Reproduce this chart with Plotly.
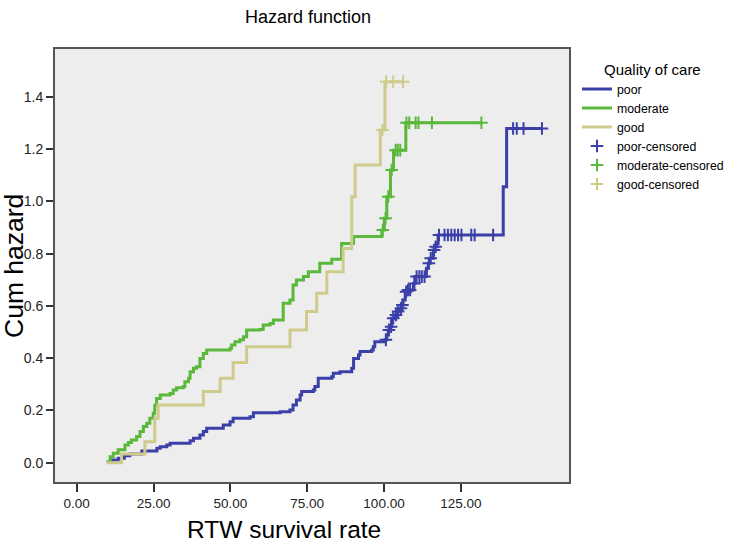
import plotly.graph_objects as go

# ---- data ----
poor_x = [9.8, 11.4, 13.5, 15.5, 17.3, 21.2, 26.1, 27.2, 29.3, 30.4, 36.9, 38.0, 40.1, 41.2, 42.3,
          47.7, 49.9, 50.9, 56.4, 57.5, 66.2, 69.4, 70.4, 71.5, 72.7, 73.2, 77.0, 77.5, 78.6, 83.0,
          83.5, 85.7, 89.5, 90.1, 91.7, 92.2, 96.0, 96.5, 97.0, 100.3, 100.9, 101.4, 102.0, 102.5, 103.6,
          104.1, 105.2, 105.8, 106.2, 106.9, 107.4, 109.6, 110.1, 113.8, 114.4, 114.9, 116.0, 116.5, 117.2,
          117.6, 138.8, 139.9, 151.4]
poor_y = [0.004, 0.010, 0.017, 0.026, 0.033, 0.045, 0.055, 0.061, 0.068, 0.074, 0.084, 0.093, 0.106, 0.119, 0.132,
          0.144, 0.157, 0.170, 0.176, 0.191, 0.195, 0.202, 0.221, 0.240, 0.259, 0.272, 0.278, 0.291, 0.323, 0.329,
          0.342, 0.348, 0.361, 0.399, 0.412, 0.425, 0.431, 0.444, 0.463, 0.470, 0.489, 0.508, 0.520, 0.553, 0.565,
          0.578, 0.591, 0.603, 0.622, 0.654, 0.661, 0.686, 0.712, 0.744, 0.763, 0.782, 0.814, 0.826, 0.839,
          0.871, 1.056, 1.279, 1.279]

moderate_x = [9.8, 10.9, 11.9, 13.5, 15.7, 16.8, 17.8, 19.5, 20.6, 21.7, 22.8, 23.8, 24.9, 25.4, 26.0,
              27.2, 30.4, 31.4, 32.5, 34.7, 35.2, 36.4, 36.9, 38.0, 39.0, 40.1, 41.2, 42.3, 49.9, 50.4,
              51.5, 53.1, 54.3, 55.3, 59.6, 60.7, 62.9, 64.0, 67.2, 69.4, 70.4, 71.5, 73.8, 75.4, 79.1,
              83.0, 86.2, 90.1, 99.3, 100.1, 100.9, 102.1, 103.1, 107.1, 131.7]
moderate_y = [0.004, 0.023, 0.036, 0.049, 0.068, 0.077, 0.087, 0.100, 0.119, 0.138, 0.151, 0.170, 0.189, 0.220, 0.246,
              0.259, 0.265, 0.278, 0.287, 0.291, 0.310, 0.323, 0.348, 0.361, 0.367, 0.399, 0.418, 0.431, 0.438, 0.450,
              0.463, 0.470, 0.482, 0.508, 0.510, 0.527, 0.533, 0.546, 0.610, 0.622, 0.680, 0.699, 0.712, 0.731, 0.763,
              0.778, 0.839, 0.865, 0.890, 0.935, 1.018, 1.120, 1.196, 1.301, 1.301]

good_x = [9.8, 14.6, 22.2, 25.4, 26.5, 41.2, 46.7, 50.9, 55.3, 69.4, 74.8, 78.1, 81.4, 86.7, 89.5,
          90.6, 98.8, 100.3, 106.2]
good_y = [0.000, 0.033, 0.080, 0.170, 0.221, 0.272, 0.323, 0.383, 0.444, 0.508, 0.578, 0.648, 0.731, 0.820, 1.018,
          1.139, 1.273, 1.458, 1.458]

poor_cens_x = [100.6, 101.6, 102.3, 103.0, 103.9, 104.6, 105.5, 106.0, 107.2, 107.8, 108.5, 109.9, 110.6, 111.5, 112.3,
               113.2, 114.6, 115.2, 116.3, 116.8, 117.9, 119.7, 120.8, 121.9, 123.0, 124.1, 125.2, 128.4, 129.5,
               135.5, 142.0, 143.2, 145.4, 151.4]
poor_cens_y = [0.470, 0.508, 0.520, 0.553, 0.565, 0.578, 0.591, 0.603, 0.654, 0.661, 0.661, 0.686, 0.712, 0.712, 0.712,
               0.712, 0.763, 0.782, 0.814, 0.826, 0.871, 0.871, 0.871, 0.871, 0.871, 0.871, 0.871, 0.871, 0.871,
               0.871, 1.279, 1.279, 1.279, 1.279]

moderate_cens_x = [99.6, 100.5, 101.4, 102.5, 103.8, 104.5, 105.3, 107.3, 108.2, 110.3, 111.2, 115.6, 131.7]
moderate_cens_y = [0.890, 0.935, 1.018, 1.120, 1.196, 1.196, 1.196, 1.301, 1.301, 1.301, 1.301, 1.301, 1.301]

good_cens_x = [99.5, 100.7, 103.0, 106.2]
good_cens_y = [1.273, 1.458, 1.458, 1.458]

x_ticks = [0, 25, 50, 75, 100, 125]
x_tick_labels = ["0.00", "25.00", "50.00", "75.00", "100.00", "125.00"]
y_ticks = [0.0, 0.2, 0.4, 0.6, 0.8, 1.0, 1.2, 1.4]
y_tick_labels = ["0.0", "0.2", "0.4", "0.6", "0.8", "1.0", "1.2", "1.4"]

# ---- styling ----
C_POOR = "#3b40a8"
C_MOD = "#5ab83a"
C_GOOD = "#cfcb8c"
FONT = "Liberation Sans, Arial, sans-serif"

fig = go.Figure()
for name, xs, ys, c in [("poor", poor_x, poor_y, C_POOR),
                        ("moderate", moderate_x, moderate_y, C_MOD),
                        ("good", good_x, good_y, C_GOOD)]:
    fig.add_trace(go.Scatter(x=xs, y=ys, name=name, mode="lines",
                             line=dict(color=c, width=3, shape="hv")))
for name, xs, ys, c in [("poor-censored", poor_cens_x, poor_cens_y, C_POOR),
                        ("moderate-censored", moderate_cens_x, moderate_cens_y, C_MOD),
                        ("good-censored", good_cens_x, good_cens_y, C_GOOD)]:
    fig.add_trace(go.Scatter(x=xs, y=ys, name=name, mode="markers",
                             marker=dict(symbol="cross-thin", size=9, color=c,
                                         line=dict(color=c, width=2))))

L, R, T, B = 55, 569, 49, 482
PW, PH = R - L, B - T
fig.update_layout(
    width=737, height=546,
    margin=dict(l=L, r=737 - R, t=T, b=546 - B, autoexpand=False),
    paper_bgcolor="white", plot_bgcolor="#ededed",
    font=dict(family=FONT, color="#000"),
    title=dict(text="Hazard function", x=308/737, xref="container", xanchor="center",
               y=1 - 17/546, yref="container", yanchor="middle",
               font=dict(size=18, color="#000")),
    showlegend=True,
    legend=dict(x=(577 - L)/PW, xanchor="left", y=1 - (55 - T)/PH, yanchor="top",
                title=dict(text="&nbsp;&nbsp;&nbsp;&nbsp;&nbsp;&nbsp;Quality of care",
                           font=dict(size=15), side="top"),
                font=dict(size=12.3), bgcolor="rgba(0,0,0,0)", tracegroupgap=0),
    annotations=[
        dict(text="RTW survival rate", xref="paper", yref="paper", x=(284 - L)/PW,
             y=-(529 - B)/PH, xanchor="center", yanchor="middle", showarrow=False,
             font=dict(size=24.5, color="#000")),
        dict(text="Cum hazard", xref="paper", yref="paper", x=-(L - 14)/PW,
             y=(B - 266)/PH, xanchor="center", yanchor="middle", showarrow=False,
             textangle=-90, font=dict(size=26.5, color="#000")),
    ],
)
fig.update_xaxes(range=[-7.06, 160.2], tickvals=x_ticks, ticktext=x_tick_labels,
                 ticks="outside", ticklen=8, tickcolor="#333", tickwidth=1.5,
                 showgrid=False, zeroline=False, showline=True, mirror=True,
                 linecolor="#555", linewidth=2, tickfont=dict(size=13.5, color="#222"))
fig.update_yaxes(range=[-0.074, 1.583], tickvals=y_ticks, ticktext=y_tick_labels,
                 ticks="outside", ticklen=7, tickcolor="#333", tickwidth=1.5,
                 showgrid=False, zeroline=False, showline=True, mirror=True,
                 linecolor="#555", linewidth=2, tickfont=dict(size=14, color="#222"))

fig.write_html("out.html", config={"displayModeBar": False},
               post_script="document.body.style.margin='0px';")
